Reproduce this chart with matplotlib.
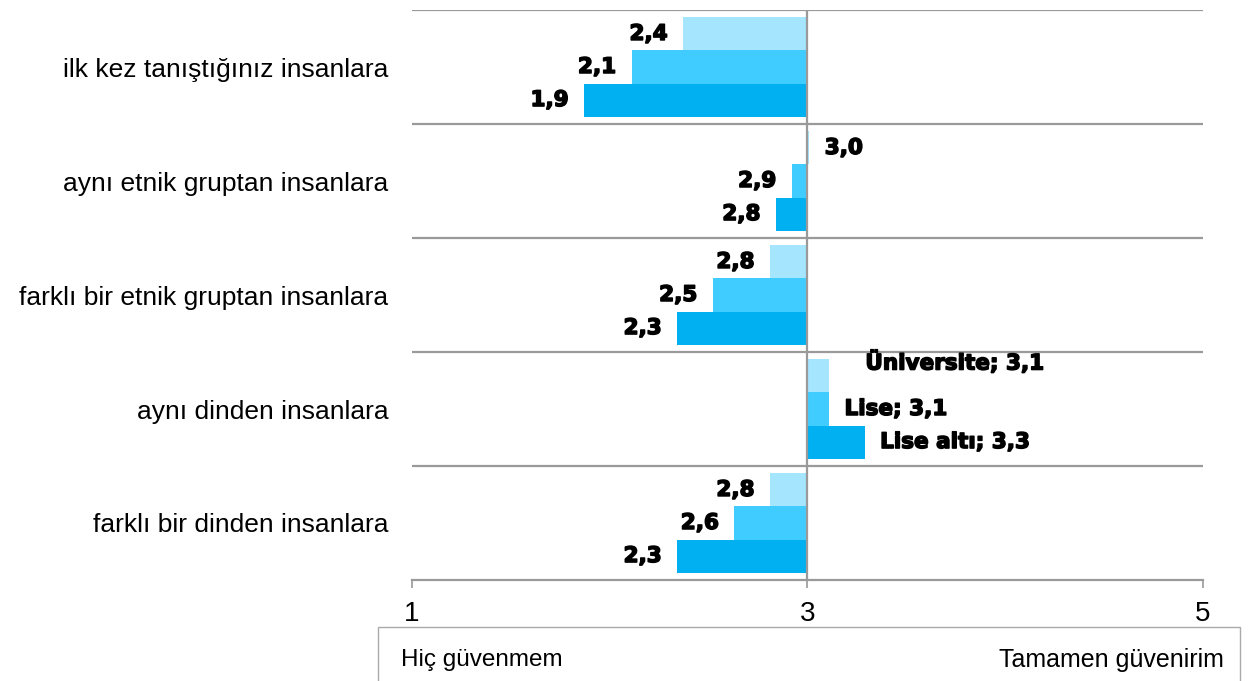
import matplotlib.pyplot as plt
import matplotlib.patheffects as pe
from matplotlib.patches import Rectangle

categories = ["ilk kez tanıştığınız insanlara", "aynı etnik gruptan insanlara",
              "farklı bir etnik gruptan insanlara", "aynı dinden insanlara",
              "farklı bir dinden insanlara"]
series = ["Üniversite", "Lise", "Lise altı"]
universite = [2.37, 3.01, 2.81, 3.11, 2.81]
lise = [2.11, 2.92, 2.52, 3.11, 2.63]
lise_alti = [1.87, 2.84, 2.34, 3.29, 2.34]
colors = ["#A5E6FE", "#40CCFF", "#00B0F0"]
xticks = [1, 3, 5]

fig = plt.figure(figsize=(12.53, 6.81), dpi=100)
ax = fig.add_axes([412/1253, 1-580/681, (1203-412)/1253, 570/681])

heavy = [pe.withStroke(linewidth=1.1, foreground="black")]
h = 0.29
offsets = [-h, 0, h]
for vals, off, col, name in zip([universite, lise, lise_alti], offsets, colors, series):
    for i, v in enumerate(vals):
        y = i + off
        ax.barh(y, v - 3, left=3, height=h, color=col, linewidth=0)
        lab = f"{v:.1f}".replace(".", ",")
        if i == 3:
            lab = f"{name}; {lab}"
        if v >= 3:
            dx, ha = 11, "left"
        else:
            dx, ha = -11, "right"
        dy = 0
        if i == 3 and name == "Üniversite":
            dx, dy = 26, 10
        ax.annotate(lab, (v, y), xytext=(dx, dy), textcoords="offset points",
                    ha=ha, va="center", fontsize=15.5, fontweight="bold",
                    family="DejaVu Sans", color="black", path_effects=heavy)

for yb in [-0.5, 0.5, 1.5, 2.5, 3.5]:
    ax.axhline(yb, color="#9a9a9a", lw=1.6, zorder=0)
ax.axvline(3, color="#9a9a9a", lw=1.6, zorder=3)

ax.set_xlim(1, 5)
ax.set_ylim(4.5, -0.5)
ax.set_yticks(range(len(categories)))
ax.set_yticklabels(categories, fontsize=19, family="Liberation Sans")
ax.tick_params(axis="y", length=0, pad=17)
ax.set_xticks(xticks)
ax.set_xticklabels([str(t) for t in xticks], fontsize=20, family="Liberation Sans")
ax.tick_params(axis="x", length=6, width=1.2, color="#9a9a9a", pad=9)
for s in ["top", "left", "right"]:
    ax.spines[s].set_visible(False)
ax.spines["bottom"].set_color("#9a9a9a")
ax.spines["bottom"].set_linewidth(1.6)

fig.patches.append(Rectangle((378/1253, -0.05), (1240-378)/1253, 1-627/681+0.05,
                             transform=fig.transFigure, fill=False,
                             edgecolor="#aaaaaa", lw=1))
fig.text(401/1253, 1-660/681, "Hiç güvenmem", fontsize=17.5, va="center",
         family="Liberation Sans")
fig.text(1224/1253, 1-660/681, "Tamamen güvenirim", fontsize=18, va="center",
         ha="right", family="Liberation Sans")

fig.savefig("out.png", dpi=100)
